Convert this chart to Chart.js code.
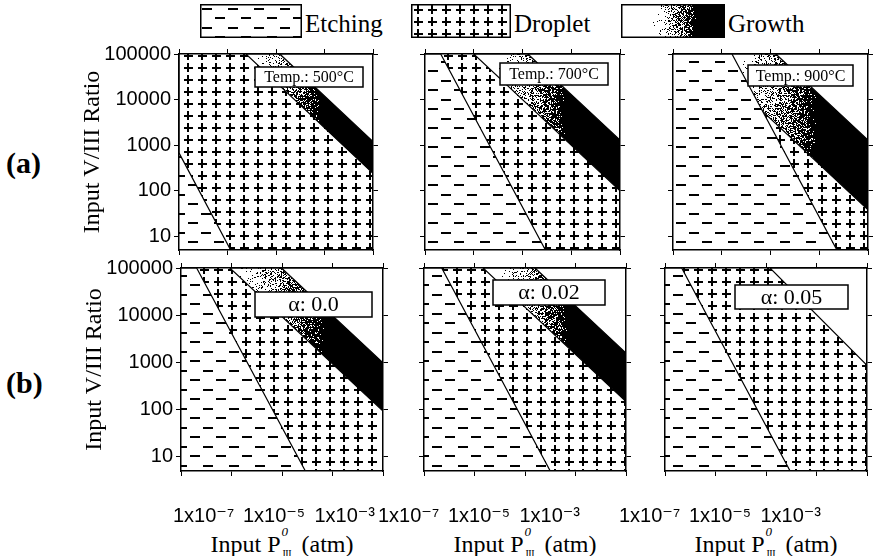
<!DOCTYPE html>
<html>
<head>
<meta charset="utf-8">
<title>Etching / Droplet / Growth maps</title>
<script src="https://cdn.jsdelivr.net/npm/chart.js@4.4.1/dist/chart.umd.min.js"></script>
<style>
  body { margin: 0; background: #fff; }
  #wrap { position: relative; width: 896px; height: 556px; overflow: hidden; background: #fff;
          font-family: 'Liberation Serif', 'Times New Roman', serif; color: #000; }
  #wrap canvas { position: absolute; }
  .txt { position: absolute; white-space: nowrap; line-height: 1; }
  .leg { font-size: 25px; top: 11px; }
  .row { font-size: 30px; font-weight: bold; left: 6px; }
  .xt { font-size: 24px; top: 528px; transform: translateX(-50%); }
  .xt .ss { display: inline-block; position: relative; width: 15px; height: 24px; }
  .xt .ss i { position: absolute; left: 1px; top: -3px; font-size: 13px; }
  .xt .ss b { position: absolute; left: 2px; top: 21px; font-size: 10px; font-weight: normal; letter-spacing: -0.5px; }
</style>
</head>
<body>
<div id="wrap">
  <canvas id="swEtch" width="102" height="34" style="left:200px;top:4px"></canvas>
  <div class="txt leg" style="left:305px">Etching</div>
  <canvas id="swDrop" width="100" height="34" style="left:411px;top:4px"></canvas>
  <div class="txt leg" style="left:514px">Droplet</div>
  <canvas id="swGrow" width="104" height="34" style="left:621px;top:4px"></canvas>
  <div class="txt leg" style="left:728px">Growth</div>

  <div class="txt row" style="top:148px">(a)</div>
  <div class="txt row" style="top:368px">(b)</div>

  <div class="txt xt" style="left:282px">Input P<span class="ss"><i>0</i><b>III</b></span> (atm)</div>
  <div class="txt xt" style="left:525px">Input P<span class="ss"><i>0</i><b>III</b></span> (atm)</div>
  <div class="txt xt" style="left:766px">Input P<span class="ss"><i>0</i><b>III</b></span> (atm)</div>
</div>

<script>
// ---- data ----
const xRange = [1e-7, 1e-3];
const yRange = [5, 1e5];
const xTicks = [1e-7, 1e-6, 1e-5, 1e-4, 1e-3];
const xTickLabels = ['1x10⁻⁷', '', '1x10⁻⁵', '', '1x10⁻³'];
const yTicks = [10, 100, 1000, 10000, 100000];
const yTickLabels = ['10', '100', '1000', '10000', '100000'];

const panelLabels = ['Temp.: 500°C', 'Temp.: 700°C', 'Temp.: 900°C', 'α: 0.0', 'α: 0.02', 'α: 0.05'];

// etching / droplet boundary  [upper end, lower end]
const etchLine = [
  [[1e-7, 676], [1.16e-6, 5]],
  [[2.1e-7, 1e5], [2.95e-5, 5]],
  [[1.62e-6, 1e5], [2.3e-4, 5]],
  [[2.04e-7, 1e5], [2.9e-5, 5]],
  [[2.24e-7, 1e5], [3.16e-5, 5]],
  [[2.14e-7, 1e5], [3.0e-5, 5]]
];

// droplet / growth boundary  [upper end, right end]
const dropLine = [
  [[2.4e-6, 1e5], [1e-3, 240]],
  [[1e-6, 1e5], [1e-3, 100]],
  [[3.8e-7, 1e5], [1e-3, 38]],
  [[9.3e-7, 1e5], [1e-3, 93]],
  [[1.48e-6, 1e5], [1e-3, 148]],
  null
];

// upper limit of growth (last panel: edge of droplet region)
const growLine = [
  [[1.2e-5, 1e5], [1e-3, 1200]],
  [[1.29e-5, 1e5], [1e-3, 1290]],
  [[1.29e-5, 1e5], [1e-3, 1290]],
  [[9.8e-6, 1e5], [1e-3, 980]],
  [[1.58e-5, 1e5], [1e-3, 1580]],
  [[1.2e-5, 1e5], [1e-3, 870]]
];

// growth shading: x where it is still white, x where it is solid black
const growShade = [
  [3.7e-6, 8e-5],
  [2.8e-6, 7.5e-5],
  [1.9e-6, 8.5e-5],
  [1e-6, 7e-5],
  [3.2e-6, 7e-5],
  null
];

// ---- layout ----
const frames = [            // plot area l, t, r, b in page pixels
  [179, 54, 373, 250], [425, 54, 620, 250], [673, 54, 868, 250],
  [181, 268, 383, 471], [424, 268, 626, 471], [665, 268, 867, 471]
];
const boxes = [             // label box x, y, w, h, font size (relative to plot area)
  [76, 13, 108, 20, 16], [75, 9, 108, 22, 16], [75, 11, 105, 21, 16],
  [74, 24, 117, 25, 22], [69, 12, 112, 25, 22], [70, 17, 113, 24, 22]
];
const labelShift = [-8, -46, -46];

const wrap = document.getElementById('wrap');

function dashTile() {
  const c = document.createElement('canvas');
  c.width = 26; c.height = 19;
  const g = c.getContext('2d');
  g.fillStyle = '#fff'; g.fillRect(0, 0, 26, 19);
  g.fillStyle = '#000';
  g.fillRect(2, 4, 10, 2);
  g.fillRect(15, 13, 10, 2);
  return c;
}

function plusTile() {
  const c = document.createElement('canvas');
  c.width = 14; c.height = 12;
  const g = c.getContext('2d');
  g.fillStyle = '#fff'; g.fillRect(0, 0, 14, 12);
  g.fillStyle = '#000';
  g.fillRect(3, 5, 9, 2);
  g.fillRect(6, 1, 2, 9);
  return c;
}

function noise(x, y) {
  let n = Math.imul(x, 374761393) + Math.imul(y, 668265263);
  n = Math.imul(n ^ (n >>> 13), 1274126177);
  n = n ^ (n >>> 16);
  return (n >>> 0) / 4294967296;
}

// white -> stippled -> black from x0 to x1 (pixels)
function stipple(w, h, x0, x1) {
  const c = document.createElement('canvas');
  c.width = w; c.height = h;
  const g = c.getContext('2d');
  const img = g.createImageData(w, h);
  for (let y = 0; y < h; y++) {
    for (let x = 0; x < w; x++) {
      let t = (x - x0) / (x1 - x0);
      t = Math.min(1, Math.max(0, t));
      const v = noise(x, y) < Math.pow(t, 1.4) ? 0 : 255;
      const k = (y * w + x) * 4;
      img.data[k] = img.data[k + 1] = img.data[k + 2] = v;
      img.data[k + 3] = 255;
    }
  }
  g.putImageData(img, 0, 0);
  return c;
}

function growthFill(span) {
  return function (c) {
    const chart = c.chart;
    if (!chart.chartArea) return '#fff';
    const key = chart.chartArea.left + ':' + chart.chartArea.right;
    if (chart.$stippleKey !== key) {
      const sx = chart.scales.x;
      const tex = stipple(chart.width, chart.height, sx.getPixelForValue(span[0]), sx.getPixelForValue(span[1]));
      chart.$stipple = chart.ctx.createPattern(tex, 'no-repeat');
      chart.$stippleKey = key;
    }
    return chart.$stipple;
  };
}

// legend swatches
function swatch(id, fill) {
  const cv = document.getElementById(id);
  const g = cv.getContext('2d');
  g.fillStyle = fill(g, cv);
  g.fillRect(0, 0, cv.width, cv.height);
  g.strokeStyle = '#000'; g.lineWidth = 1.5;
  g.strokeRect(0.75, 0.75, cv.width - 1.5, cv.height - 1.5);
}
swatch('swEtch', g => g.createPattern(dashTile(), 'repeat'));
swatch('swDrop', g => g.createPattern(plusTile(), 'repeat'));
swatch('swGrow', (g, cv) => g.createPattern(stipple(cv.width, cv.height, cv.width * 0.3, cv.width * 0.72), 'no-repeat'));

const labelBox = {
  id: 'labelBox',
  afterDatasetsDraw(chart, args, opts) {
    const {ctx, chartArea} = chart;
    const [bx, by, bw, bh, fs] = opts.rect;
    const x = chartArea.left + bx, y = chartArea.top + by;
    ctx.save();
    ctx.fillStyle = '#fff';
    ctx.fillRect(x, y, bw, bh);
    ctx.strokeStyle = '#000';
    ctx.lineWidth = 1.5;
    ctx.strokeRect(x, y, bw, bh);
    ctx.fillStyle = '#000';
    ctx.font = fs + "px 'Liberation Serif', 'Times New Roman', serif";
    ctx.textAlign = 'center';
    ctx.textBaseline = 'middle';
    ctx.fillText(opts.text, x + bw / 2, y + bh / 2 + 1);
    ctx.restore();
  }
};

const tickFont = {family: "'Liberation Sans', 'DejaVu Sans', Arial, sans-serif", size: 20};

function logAxis(position, ticks, size, extra) {
  const horiz = position === 'top' || position === 'bottom';
  return Object.assign({
    type: 'logarithmic',
    position: position,
    min: horiz ? xRange[0] : yRange[0],
    max: horiz ? xRange[1] : yRange[1],
    afterBuildTicks: s => { s.ticks = ticks.map(v => ({value: v})); },
    afterFit: s => { if (horiz) s.height = size; else s.width = size; },
    ticks: {display: false},
    grid: {drawOnChartArea: false, drawTicks: true, tickLength: 5, color: '#000', lineWidth: 1},
    border: {display: true, color: '#000', width: 1.5, z: 1}
  }, extra || {});
}

function buildPanel(i) {
  const f = frames[i];
  const row = Math.floor(i / 3), col = i % 3;
  const L = col === 0 ? 110 : 12, T = 16, B = row === 0 ? 16 : 70;
  const R = row === 1 ? 34 : 12;             // label padding needs room on the right
  const P = row === 1 && col > 0 ? 60 : 0;   // room for shifted tick labels
  const cv = document.createElement('canvas');
  cv.width = f[2] - f[0] + L + R + P;
  cv.height = f[3] - f[1] + T + B;
  cv.style.left = (f[0] - L - P) + 'px';
  cv.style.top = (f[1] - T) + 'px';
  wrap.appendChild(cv);
  const ctx = cv.getContext('2d');

  const xMin = xRange[0], xMax = xRange[1], yMin = yRange[0], yMax = yRange[1];
  const pt = p => ({x: p[0], y: p[1]});
  const et = etchLine[i], gl = growLine[i], dl = dropLine[i];

  const region = (pts, fill, order, stroke) => ({
    data: pts.map(pt),
    fill: 'shape',
    backgroundColor: fill,
    borderColor: '#000',
    borderWidth: stroke ? 1.2 : 0,
    pointRadius: 0,
    tension: 0,
    order: order
  });

  const datasets = [
    region([[xMin, yMax], et[0], et[1], [xMin, yMin]], ctx.createPattern(dashTile(), 'repeat'), 0, true),
    region([[xMax, yMax], gl[0], gl[1]], '#fff', 1, true),
    region([[xMin, yMax], [xMax, yMax], [xMax, yMin], [xMin, yMin]], ctx.createPattern(plusTile(), 'repeat'), 3, false)
  ];
  if (dl) {
    datasets.push(region([gl[1], gl[0], dl[0], dl[1]], growthFill(growShade[i]), 2, true));
  }

  new Chart(cv, {
    type: 'line',
    data: {datasets: datasets},
    options: {
      responsive: false,
      animation: false,
      devicePixelRatio: 1,
      events: [],
      layout: {padding: {left: P, right: 0, top: 0, bottom: 0}, autoPadding: false},
      plugins: {
        legend: {display: false},
        tooltip: {enabled: false},
        labelBox: {rect: boxes[i], text: panelLabels[i]}
      },
      scales: {
        x: logAxis('bottom', xTicks, B, row === 1 ? {
          ticks: {
            display: true, autoSkip: false, maxRotation: 0, minRotation: 0,
            align: 'inner', padding: 28, labelOffset: labelShift[col],
            color: '#000', font: tickFont,
            callback: (v, k) => xTickLabels[k]
          }
        } : null),
        xTop: logAxis('top', xTicks, T),
        y: logAxis('left', yTicks, L, col === 0 ? {
          ticks: {
            display: true, autoSkip: false, padding: 3,
            color: '#000', font: tickFont,
            callback: (v, k) => yTickLabels[k]
          },
          title: {
            display: true, text: 'Input V/III Ratio', color: '#000',
            font: {family: "'Liberation Serif', 'Times New Roman', serif", size: 24},
            padding: {top: 9, bottom: 0}
          }
        } : null),
        yRight: logAxis('right', yTicks, R)
      }
    },
    plugins: [labelBox]
  });
}

for (let i = 0; i < 6; i++) buildPanel(i);
</script>
</body>
</html>
